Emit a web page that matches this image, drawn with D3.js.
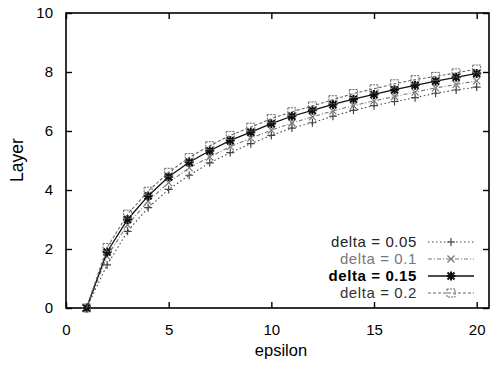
<!DOCTYPE html>
<html>
<head>
<meta charset="utf-8">
<script src="https://cdn.jsdelivr.net/npm/d3@7"></script>
<style>
  body { margin: 0; background: #fff; }
  text { font-family: "Liberation Sans", Arial, sans-serif; }
</style>
</head>
<body>
<script>
// data
var epsilon = [1, 2, 3, 4, 5, 6, 7, 8, 9, 10, 11, 12, 13, 14, 15, 16, 17, 18, 19, 20];
var delta005 = [0, 1.46, 2.6, 3.4, 4.02, 4.5, 4.92, 5.27, 5.57, 5.85, 6.1, 6.28, 6.5, 6.7, 6.86, 7.0, 7.13, 7.28, 7.39, 7.49];
var delta010 = [0, 1.75, 2.82, 3.62, 4.25, 4.75, 5.12, 5.47, 5.76, 6.03, 6.27, 6.48, 6.68, 6.86, 7.02, 7.17, 7.32, 7.46, 7.58, 7.7];
var delta015 = [0, 1.9, 3.0, 3.8, 4.45, 4.94, 5.33, 5.68, 5.96, 6.25, 6.5, 6.7, 6.9, 7.08, 7.24, 7.4, 7.55, 7.69, 7.82, 7.95];
var delta020 = [0, 2.05, 3.18, 3.96, 4.6, 5.1, 5.5, 5.85, 6.13, 6.42, 6.65, 6.85, 7.06, 7.27, 7.43, 7.6, 7.74, 7.85, 7.97, 8.1];
var seriesNames = ["delta = 0.05", "delta = 0.1", "delta = 0.15", "delta = 0.2"];
var xTicks = [0, 5, 10, 15, 20];
var yTicks = [0, 2, 4, 6, 8, 10];

var series = [
  {name: seriesNames[0], values: delta005, marker: "plus",   dash: "1.5,2.5", color: "#444", text: "#222", weight: "normal"},
  {name: seriesNames[1], values: delta010, marker: "cross",  dash: "4,2,1,2", color: "#777", text: "#777", weight: "normal"},
  {name: seriesNames[2], values: delta015, marker: "star",   dash: null,      color: "#111", text: "#000", weight: "bold"},
  {name: seriesNames[3], values: delta020, marker: "square", dash: "3,2",     color: "#666", text: "#333", weight: "normal"}
];

var W = 492, H = 365;
var margin = {top: 13, right: 3, bottom: 57, left: 66},
    width = W - margin.left - margin.right,
    height = H - margin.top - margin.bottom;

var svg = d3.select("body").append("svg")
    .attr("width", W)
    .attr("height", H);
var g = svg.append("g")
    .attr("transform", "translate(" + margin.left + "," + margin.top + ")");

var x = d3.scaleLinear().domain([0, 20.6]).range([0, width]);
var y = d3.scaleLinear().domain([0, 10]).range([height, 0]);

// frame
g.append("rect")
    .attr("width", width).attr("height", height)
    .attr("fill", "none").attr("stroke", "#000").attr("stroke-width", 1.6);

// axes with inward ticks
function styleAxis(sel) {
  sel.select(".domain").remove();
  sel.selectAll("line").attr("stroke", "#000").attr("stroke-width", 1.4);
  sel.selectAll("text").attr("fill", "#000").style("font-size", "15px");
}
g.append("g").attr("transform", "translate(0," + height + ")")
    .call(d3.axisBottom(x).tickValues(xTicks).tickSizeInner(-6).tickPadding(16))
    .call(styleAxis);
g.append("g")
    .call(d3.axisTop(x).tickValues(xTicks).tickSizeInner(-6).tickFormat(""))
    .call(styleAxis);
g.append("g")
    .call(d3.axisLeft(y).tickValues(yTicks).tickSizeInner(-6).tickPadding(13))
    .call(styleAxis);
g.append("g").attr("transform", "translate(" + width + ",0)")
    .call(d3.axisRight(y).tickValues(yTicks).tickSizeInner(-6).tickFormat(""))
    .call(styleAxis);

// axis titles
svg.append("text")
    .attr("x", 281).attr("y", 356)
    .attr("text-anchor", "middle")
    .style("font-size", "16.5px")
    .text("epsilon");
svg.append("text")
    .attr("transform", "translate(23,160) rotate(-90)")
    .attr("text-anchor", "middle")
    .style("font-size", "17.5px")
    .text("Layer");

function drawMarker(sel, type, color) {
  var s = 4;
  if (type === "plus") {
    sel.append("path").attr("d", "M" + (-s) + ",0H" + s + "M0," + (-s) + "V" + s)
      .attr("stroke", color).attr("stroke-width", 1.2).attr("fill", "none");
  } else if (type === "cross") {
    sel.append("path").attr("d", "M-3.5,-3.5L3.5,3.5M-3.5,3.5L3.5,-3.5")
      .attr("stroke", color).attr("stroke-width", 1.2).attr("fill", "none");
  } else if (type === "star") {
    sel.append("path").attr("d", "M-4.5,0H4.5M0,-4.5V4.5M-3.5,-3.5L3.5,3.5M-3.5,3.5L3.5,-3.5")
      .attr("stroke", color).attr("stroke-width", 2).attr("fill", "none");
  } else if (type === "square") {
    sel.append("rect").attr("x", -4).attr("y", -4).attr("width", 8).attr("height", 8)
      .attr("stroke", color).attr("stroke-width", 1).attr("fill", "none")
      .attr("stroke-dasharray", "2,1");
  }
}

var line = d3.line()
    .x(function(d, i) { return x(epsilon[i]); })
    .y(function(d) { return y(d); });

series.forEach(function(s) {
  g.append("path")
      .datum(s.values)
      .attr("d", line)
      .attr("fill", "none")
      .attr("stroke", s.color)
      .attr("stroke-width", s.dash ? 1.1 : 1.3)
      .attr("stroke-dasharray", s.dash);
  g.selectAll(null)
      .data(s.values)
    .enter().append("g")
      .attr("transform", function(d, i) { return "translate(" + x(epsilon[i]) + "," + y(d) + ")"; })
      .each(function() { drawMarker(d3.select(this), s.marker, s.color); });
});

// legend
var legend = svg.append("g");
series.forEach(function(s, i) {
  var ly = 242 + i * 17;
  legend.append("text")
      .attr("x", 417).attr("y", ly + 5)
      .attr("text-anchor", "end")
      .attr("fill", s.text)
      .style("font-size", "15px")
      .style("letter-spacing", "0.6px")
      .style("font-weight", s.weight === "bold" ? 600 : 400)
      .text(s.name);
  legend.append("line")
      .attr("x1", 428).attr("x2", 474).attr("y1", ly).attr("y2", ly)
      .attr("stroke", s.color)
      .attr("stroke-width", s.dash ? 1.1 : 1.3)
      .attr("stroke-dasharray", s.dash);
  var m = legend.append("g").attr("transform", "translate(451," + ly + ")");
  drawMarker(m, s.marker, s.color);
});
</script>
</body>
</html>
